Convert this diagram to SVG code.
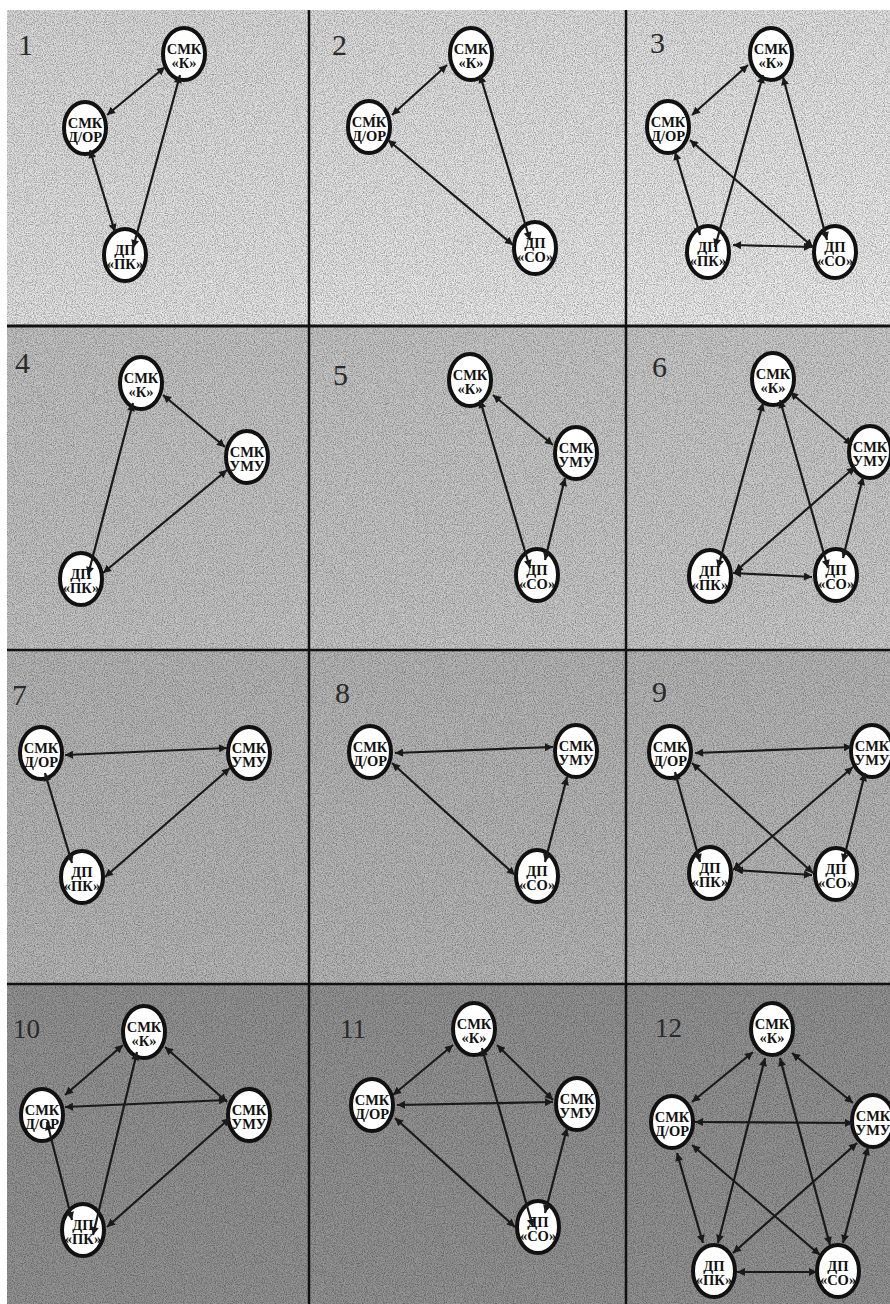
<svg xmlns="http://www.w3.org/2000/svg" width="890" height="1304" viewBox="0 0 890 1304">
<defs>
<style>
.n ellipse{fill:#fff;stroke:#111;stroke-width:4}
.n text{font-family:"Liberation Serif","Times New Roman",serif;font-weight:bold;font-size:14.5px;text-anchor:middle;fill:#111}
.num{font-family:"Liberation Serif","Times New Roman",serif;font-size:30px;fill:#2a2a2a}
.num2{font-family:"Liberation Serif","Times New Roman",serif;font-size:27px;fill:#2a2a2a}
.e line{stroke:#1a1a1a;stroke-width:2.2;marker-start:url(#ah);marker-end:url(#ah)}
.grid line{stroke:#111}
</style>
<marker id="ah" viewBox="0 0 10 10" refX="10" refY="5" markerWidth="10" markerHeight="8" markerUnits="userSpaceOnUse" orient="auto-start-reverse"><path d="M0,0 L10,5 L0,10 z" fill="#1a1a1a"/></marker>
<linearGradient id="r1" x1="0" y1="0" x2="1" y2="1"><stop offset="0" stop-color="#dadada"/><stop offset="1" stop-color="#f0f0f0"/></linearGradient>
<linearGradient id="r2" x1="0" y1="0" x2="1" y2="0"><stop offset="0" stop-color="#c4c4c4"/><stop offset="1" stop-color="#cdcdcd"/></linearGradient>
<filter id="grain" x="0" y="0" width="100%" height="100%">
<feTurbulence type="fractalNoise" baseFrequency="0.9" numOctaves="2" seed="4"/>
<feColorMatrix type="matrix" values="0 0 0 0 0  0 0 0 0 0  0 0 0 0 0  0.75 0 0 0 -0.28"/>
</filter>
</defs>
<g id="background">
<rect x="0" y="0" width="890" height="1304" fill="#fff"/>
<rect x="7" y="10" width="883" height="316" fill="url(#r1)"/>
<rect x="7" y="326" width="883" height="324" fill="url(#r2)"/>
<rect x="7" y="650" width="883" height="334" fill="#b8b8b8"/>
<rect x="7" y="984" width="883" height="320" fill="#949494"/>
<rect x="7" y="10" width="883" height="1294" fill="#000" filter="url(#grain)"/>
</g>
<g id="grid" class="grid">
<line x1="309" y1="10" x2="309" y2="1304" stroke-width="2.5"/>
<line x1="626" y1="10" x2="626" y2="1304" stroke-width="2.5"/>
<line x1="7" y1="326" x2="890" y2="326" stroke-width="3"/>
<line x1="7" y1="650" x2="890" y2="650" stroke-width="2.5"/>
<line x1="7" y1="984" x2="890" y2="984" stroke-width="2.5"/>
</g>
<g id="panel-numbers">
<text class="num" x="18" y="55">1</text>
<text class="num" x="332" y="55">2</text>
<text class="num" x="650" y="53">3</text>
<text class="num" x="15" y="373">4</text>
<text class="num" x="333" y="385">5</text>
<text class="num" x="652" y="377">6</text>
<text class="num" x="12" y="705">7</text>
<text class="num" x="335" y="703">8</text>
<text class="num" x="652" y="702">9</text>
<text class="num2" x="13" y="1038">10</text>
<text class="num2" x="340" y="1038">11</text>
<text class="num2" x="655" y="1037">12</text>
</g>
<g id="nodes">
<g id="p1-k" class="n"><ellipse cx="184" cy="54" rx="21" ry="26"/><text x="184" y="54">СМК</text><text x="184" y="68">«К»</text></g>
<g id="p1-d" class="n"><ellipse cx="85" cy="128" rx="21" ry="26"/><text x="85" y="128">СМК</text><text x="85" y="142">Д/ОР</text></g>
<g id="p1-pk" class="n"><ellipse cx="125" cy="255" rx="21" ry="26"/><text x="125" y="255">ДП</text><text x="125" y="269">«ПК»</text></g>

<g id="p2-k" class="n"><ellipse cx="471" cy="54" rx="21" ry="26"/><text x="471" y="54">СМК</text><text x="471" y="68">«К»</text></g>
<g id="p2-d" class="n"><ellipse cx="369" cy="127" rx="21" ry="26"/><text x="369" y="127">СМ́К</text><text x="369" y="141">Д/ОР</text></g>
<g id="p2-so" class="n"><ellipse cx="535" cy="248" rx="21" ry="26"/><text x="535" y="248">ДП</text><text x="535" y="262">«СО»</text></g>

<g id="p3-k" class="n"><ellipse cx="771" cy="54" rx="21" ry="26"/><text x="771" y="54">СМК</text><text x="771" y="68">«К»</text></g>
<g id="p3-d" class="n"><ellipse cx="668" cy="127" rx="21" ry="26"/><text x="668" y="127">СМК</text><text x="668" y="141">Д/ОР</text></g>
<g id="p3-pk" class="n"><ellipse cx="708" cy="252" rx="21" ry="26"/><text x="708" y="252">ДП</text><text x="708" y="266">«ПК»</text></g>
<g id="p3-so" class="n"><ellipse cx="835" cy="252" rx="21" ry="26"/><text x="835" y="252">ДП</text><text x="835" y="266">«СО»</text></g>

<g id="p4-k" class="n"><ellipse cx="141" cy="383" rx="21" ry="26"/><text x="141" y="383">СМК</text><text x="141" y="397">«К»</text></g>
<g id="p4-u" class="n"><ellipse cx="247" cy="457" rx="21" ry="26"/><text x="247" y="457">СМК</text><text x="247" y="471">УМУ</text></g>
<g id="p4-pk" class="n"><ellipse cx="81" cy="579" rx="21" ry="26"/><text x="81" y="579">ДП</text><text x="81" y="593">«ПК»</text></g>

<g id="p5-k" class="n"><ellipse cx="470" cy="380" rx="21" ry="26"/><text x="470" y="380">СМК</text><text x="470" y="394">«К»</text></g>
<g id="p5-u" class="n"><ellipse cx="576" cy="453" rx="21" ry="26"/><text x="576" y="453">СМК</text><text x="576" y="467">УМУ</text></g>
<g id="p5-so" class="n"><ellipse cx="537" cy="575" rx="21" ry="26"/><text x="537" y="575">ДП</text><text x="537" y="589">«СО»</text></g>

<g id="p6-k" class="n"><ellipse cx="773" cy="379" rx="21" ry="26"/><text x="773" y="379">СМК</text><text x="773" y="393">«К»</text></g>
<g id="p6-u" class="n"><ellipse cx="870" cy="452" rx="21" ry="26"/><text x="870" y="452">СМК</text><text x="870" y="466">УМУ</text></g>
<g id="p6-pk" class="n"><ellipse cx="710" cy="576" rx="21" ry="26"/><text x="710" y="576">ДП</text><text x="710" y="590">«ПК»</text></g>
<g id="p6-so" class="n"><ellipse cx="836" cy="575" rx="21" ry="26"/><text x="836" y="575">ДП</text><text x="836" y="589">«СО»</text></g>

<g id="p7-d" class="n"><ellipse cx="41" cy="753" rx="21" ry="26"/><text x="41" y="753">СМК</text><text x="41" y="767">Д/ОР</text></g>
<g id="p7-u" class="n"><ellipse cx="249" cy="753" rx="21" ry="26"/><text x="249" y="753">СМК</text><text x="249" y="767">УМУ</text></g>
<g id="p7-pk" class="n"><ellipse cx="82" cy="877" rx="21" ry="26"/><text x="82" y="877">ДП</text><text x="82" y="891">«ПК»</text></g>

<g id="p8-d" class="n"><ellipse cx="370" cy="752" rx="21" ry="26"/><text x="370" y="752">СМК</text><text x="370" y="766">Д/ОР</text></g>
<g id="p8-u" class="n"><ellipse cx="576" cy="751" rx="21" ry="26"/><text x="576" y="751">СМК</text><text x="576" y="765">УМУ</text></g>
<g id="p8-so" class="n"><ellipse cx="537" cy="876" rx="21" ry="26"/><text x="537" y="876">ДП</text><text x="537" y="890">«СО»</text></g>

<g id="p9-d" class="n"><ellipse cx="670" cy="752" rx="21" ry="26"/><text x="670" y="752">СМК</text><text x="670" y="766">Д/ОР</text></g>
<g id="p9-u" class="n"><ellipse cx="872" cy="751" rx="21" ry="26"/><text x="872" y="751">СМК</text><text x="872" y="765">УМУ</text></g>
<g id="p9-pk" class="n"><ellipse cx="710" cy="873" rx="21" ry="26"/><text x="710" y="873">ДП</text><text x="710" y="887">«ПК»</text></g>
<g id="p9-so" class="n"><ellipse cx="836" cy="874" rx="21" ry="26"/><text x="836" y="874">ДП</text><text x="836" y="888">«СО»</text></g>

<g id="p10-k" class="n"><ellipse cx="144" cy="1032" rx="21" ry="26"/><text x="144" y="1032">СМК</text><text x="144" y="1046">«К»</text></g>
<g id="p10-d" class="n"><ellipse cx="42" cy="1115" rx="21" ry="26"/><text x="42" y="1115">СМК</text><text x="42" y="1129">Д/ОР</text></g>
<g id="p10-u" class="n"><ellipse cx="249" cy="1115" rx="21" ry="26"/><text x="249" y="1115">СМК</text><text x="249" y="1129">УМУ</text></g>
<g id="p10-pk" class="n"><ellipse cx="83" cy="1230" rx="21" ry="26"/><text x="83" y="1230">ДП</text><text x="83" y="1244">«ПК»</text></g>

<g id="p11-k" class="n"><ellipse cx="474" cy="1029" rx="21" ry="26"/><text x="474" y="1029">СМК</text><text x="474" y="1043">«К»</text></g>
<g id="p11-d" class="n"><ellipse cx="372" cy="1105" rx="21" ry="26"/><text x="372" y="1105">СМК</text><text x="372" y="1119">Д/ОР</text></g>
<g id="p11-u" class="n"><ellipse cx="577" cy="1104" rx="21" ry="26"/><text x="577" y="1104">СМК</text><text x="577" y="1118">УМУ</text></g>
<g id="p11-so" class="n"><ellipse cx="538" cy="1227" rx="21" ry="26"/><text x="538" y="1227">ДП</text><text x="538" y="1241">«СО»</text></g>

<g id="p12-k" class="n"><ellipse cx="772" cy="1029" rx="21" ry="26"/><text x="772" y="1029">СМК</text><text x="772" y="1043">«К»</text></g>
<g id="p12-d" class="n"><ellipse cx="672" cy="1122" rx="21" ry="26"/><text x="672" y="1122">СМК</text><text x="672" y="1136">Д/ОР</text></g>
<g id="p12-u" class="n"><ellipse cx="873" cy="1121" rx="21" ry="26"/><text x="873" y="1121">СМК</text><text x="873" y="1135">УМУ</text></g>
<g id="p12-pk" class="n"><ellipse cx="714" cy="1271" rx="21" ry="26"/><text x="714" y="1271">ДП</text><text x="714" y="1285">«ПК»</text></g>
<g id="p12-so" class="n"><ellipse cx="838" cy="1271" rx="21" ry="26"/><text x="838" y="1271">ДП</text><text x="838" y="1285">«СО»</text></g>
</g>
<g id="connectors" class="e">
<line x1="165" y1="67" x2="107" y2="115"/>
<line x1="90" y1="150" x2="115" y2="232"/>
<line x1="180" y1="75" x2="133" y2="248"/>

<line x1="447" y1="65" x2="392" y2="115"/>
<line x1="388" y1="140" x2="513" y2="245"/>
<line x1="480" y1="75" x2="530" y2="240"/>

<line x1="748" y1="65" x2="692" y2="115"/>
<line x1="675" y1="152" x2="700" y2="235"/>
<line x1="763" y1="75" x2="715" y2="247"/>
<line x1="783" y1="77" x2="827" y2="240"/>
<line x1="690" y1="140" x2="813" y2="247"/>
<line x1="733" y1="245" x2="812" y2="247"/>

<line x1="163" y1="395" x2="225" y2="447"/>
<line x1="227" y1="470" x2="103" y2="573"/>
<line x1="133" y1="403" x2="88" y2="575"/>

<line x1="493" y1="395" x2="553" y2="445"/>
<line x1="480" y1="400" x2="530" y2="568"/>
<line x1="565" y1="478" x2="545" y2="560"/>

<line x1="790" y1="392" x2="852" y2="445"/>
<line x1="763" y1="403" x2="718" y2="568"/>
<line x1="780" y1="400" x2="828" y2="568"/>
<line x1="863" y1="477" x2="843" y2="558"/>
<line x1="855" y1="467" x2="735" y2="572"/>
<line x1="733" y1="573" x2="812" y2="577"/>

<line x1="65" y1="755" x2="227" y2="748"/>
<line x1="45" y1="773" x2="72" y2="863"/>
<line x1="230" y1="768" x2="105" y2="877"/>

<line x1="395" y1="753" x2="553" y2="747"/>
<line x1="392" y1="763" x2="515" y2="875"/>
<line x1="567" y1="777" x2="545" y2="862"/>

<line x1="695" y1="753" x2="852" y2="747"/>
<line x1="675" y1="772" x2="700" y2="862"/>
<line x1="692" y1="763" x2="813" y2="873"/>
<line x1="853" y1="767" x2="733" y2="870"/>
<line x1="865" y1="773" x2="843" y2="862"/>
<line x1="735" y1="870" x2="812" y2="875"/>

<line x1="123" y1="1045" x2="65" y2="1095"/>
<line x1="165" y1="1047" x2="227" y2="1102"/>
<line x1="65" y1="1107" x2="227" y2="1100"/>
<line x1="47" y1="1122" x2="72" y2="1220"/>
<line x1="137" y1="1052" x2="93" y2="1235"/>
<line x1="230" y1="1118" x2="107" y2="1227"/>

<line x1="453" y1="1045" x2="393" y2="1095"/>
<line x1="497" y1="1045" x2="553" y2="1100"/>
<line x1="397" y1="1105" x2="553" y2="1102"/>
<line x1="395" y1="1118" x2="515" y2="1227"/>
<line x1="482" y1="1048" x2="533" y2="1227"/>
<line x1="567" y1="1128" x2="545" y2="1213"/>

<line x1="753" y1="1052" x2="692" y2="1102"/>
<line x1="792" y1="1053" x2="853" y2="1103"/>
<line x1="695" y1="1122" x2="853" y2="1123"/>
<line x1="677" y1="1153" x2="703" y2="1243"/>
<line x1="692" y1="1145" x2="820" y2="1255"/>
<line x1="765" y1="1058" x2="718" y2="1243"/>
<line x1="780" y1="1058" x2="830" y2="1245"/>
<line x1="857" y1="1143" x2="733" y2="1253"/>
<line x1="868" y1="1147" x2="843" y2="1243"/>
<line x1="737" y1="1272" x2="817" y2="1272"/>
</g>
</svg>
